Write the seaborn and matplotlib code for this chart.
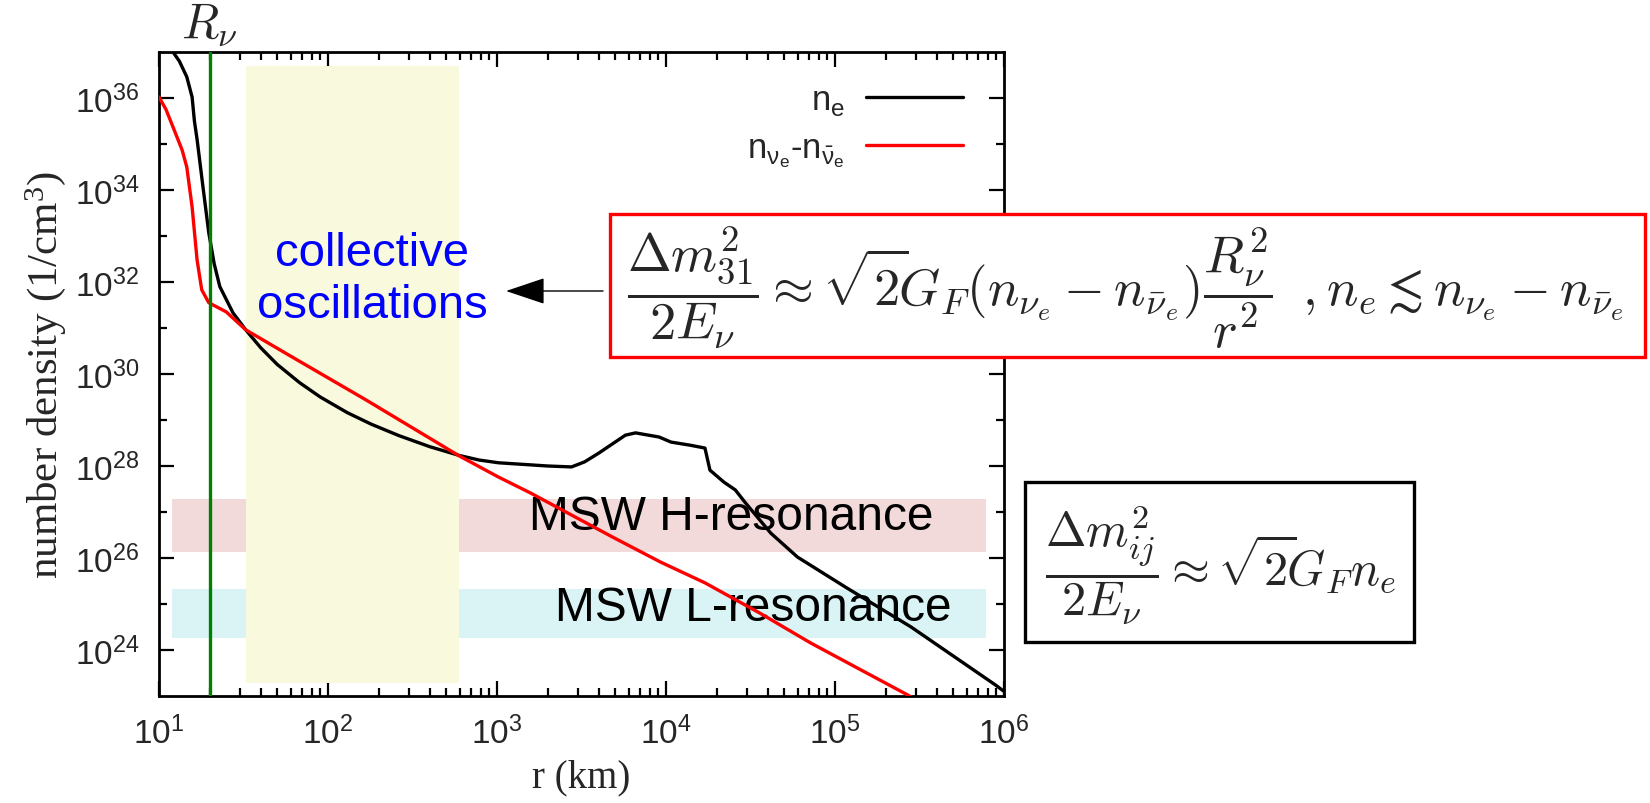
import numpy as np
import pandas as pd
import matplotlib
matplotlib.use("Agg")
import matplotlib.pyplot as plt
import seaborn as sns
from matplotlib.patches import Rectangle, FancyArrowPatch
from matplotlib.ticker import FixedLocator, FuncFormatter, NullFormatter
import matplotlib.transforms as mtransforms

# ---------------- data ----------------
r_ne = [11.5, 12.1, 13.2, 14.6, 15.7, 16.2, 16.8, 18.2, 19.7, 21.2, 22.9, 27.4, 32.6,
        40, 50, 68, 90, 130, 180, 263, 400, 597, 783, 1020, 1500, 2000, 2760, 3300,
        4000, 5750, 6600, 9100, 10700, 14000, 17000, 18200, 22000, 25700, 29500,
        41700, 60000, 115000, 282000, 890000, 1e6]
exp_ne = [37.3, 37.0, 36.8, 36.46, 36.02, 35.5, 35.1, 34.07, 33.07, 32.4, 31.9, 31.33, 30.96,
          30.57, 30.21, 29.81, 29.50, 29.16, 28.91, 28.66, 28.42, 28.23, 28.13, 28.07, 28.03,
          28.0, 27.98, 28.09, 28.28, 28.67, 28.72, 28.63, 28.52, 28.45, 28.39, 27.91, 27.65,
          27.48, 27.2, 26.54, 26.02, 25.37, 24.5, 23.24, 23.1]

r_nu = [10, 11, 12.1, 13.7, 14.6, 15.7, 16.8, 17.9, 19.7, 25, 32.6, 60, 169, 597, 1020,
        1585, 4800, 9300, 17000, 36000, 72000, 270000, 320000]
exp_nu = [36.02, 35.75, 35.37, 34.87, 34.5, 33.63, 32.48, 31.83, 31.55, 31.35, 30.96, 30.39,
          29.43, 28.22, 27.76, 27.41, 26.46, 25.91, 25.46, 24.8, 24.15, 23.02, 22.85]

R_nu = 20.0                      # neutrinosphere radius (km)
collective_range = (32.6, 597)   # collective oscillation region (km)
H_band = (1.35e26, 1.9e27)       # MSW H-resonance densities
L_band = (1.8e24, 2.1e25)        # MSW L-resonance densities
band_r = (12, 7.8e5)

x_ticks = [1e1, 1e2, 1e3, 1e4, 1e5, 1e6]
y_major = [1e24, 1e26, 1e28, 1e30, 1e32, 1e34, 1e36]
y_minor = [1e25, 1e27, 1e29, 1e31, 1e33, 1e35]

label_ne = r"n$_\mathregular{e}$"
label_nu = r"n$_{\mathregular{\nu_e}}$-n$_{\mathregular{\bar{\nu}_e}}$"

df_ne = pd.DataFrame({"r": r_ne, "n": 10.0 ** np.array(exp_ne)})
df_nu = pd.DataFrame({"r": r_nu, "n": 10.0 ** np.array(exp_nu)})

# ---------------- style ----------------
sns.set_theme(style="ticks")
plt.rcParams["font.family"] = ["Liberation Sans", "DejaVu Sans"]
plt.rcParams["axes.linewidth"] = 2.0

W, H = 1650, 804
fig = plt.figure(figsize=(W / 100, H / 100), dpi=100)
fig.patch.set_facecolor("white")


def fx(px):
    return px / W


def fy(py):
    return 1 - py / H


ax = fig.add_axes([fx(159), fy(697), fx(1004) - fx(159), (697 - 53) / H])
ax.set_facecolor("white")
ax.set_xscale("log")
ax.set_yscale("log")
ax.set_xlim(1e1, 1e6)
ax.set_ylim(1e23, 1e37)

# background regions
xr0 = (np.log10(band_r[0]) - 1) / 5
xr1 = (np.log10(band_r[1]) - 1) / 5
ax.axhspan(*H_band, xmin=xr0, xmax=xr1, color="#f2dadb", lw=0, zorder=1)
ax.axhspan(*L_band, xmin=xr0, xmax=xr1, color="#daf4f5", lw=0, zorder=1)
ax.axvspan(*collective_range, ymin=0.02, ymax=0.978, color="#f9f9de", lw=0, zorder=2)

ax.text(0.677, 0.278, "MSW H-resonance", transform=ax.transAxes, ha="center",
        va="center", fontsize=34.5, color="black", zorder=3)
ax.text(0.703, 0.138, "MSW L-resonance", transform=ax.transAxes, ha="center",
        va="center", fontsize=34.5, color="black", zorder=3)

sns.lineplot(data=df_ne, x="r", y="n", ax=ax, color="black", lw=2.4, sort=False,
             estimator=None, label=label_ne, zorder=4)
sns.lineplot(data=df_nu, x="r", y="n", ax=ax, color="#ff0000", lw=2.4, sort=False,
             estimator=None, label=label_nu, zorder=4)

ax.axvline(R_nu, color="#008000", lw=2.4, zorder=5)
blend = mtransforms.blended_transform_factory(ax.transData, ax.transAxes)
ax.text(R_nu, 1.022, r"$R_\nu$", transform=blend, ha="center", va="baseline",
        fontsize=35, math_fontfamily="cm")

fig.text(fx(372), fy(280), "collective\noscillations", ha="center", va="center",
         fontsize=34, color="#0000ff", linespacing=1.22, zorder=6)

# ticks
ax.xaxis.set_major_locator(FixedLocator(x_ticks))
ax.yaxis.set_major_locator(FixedLocator(y_major))
ax.yaxis.set_minor_locator(FixedLocator(y_minor))
ax.yaxis.set_minor_formatter(NullFormatter())
fmt = FuncFormatter(lambda v, p: r"$\mathregular{10^{%d}}$" % int(round(np.log10(v))))
ax.xaxis.set_major_formatter(fmt)
ax.yaxis.set_major_formatter(fmt)
ax.tick_params(which="both", direction="in", top=True, right=True, labelsize=24,
               width=1.6, color="black")
ax.tick_params(which="major", length=11)
ax.tick_params(which="minor", length=6)
ax.tick_params(axis="x", which="major", pad=14)
ax.tick_params(axis="y", which="major", pad=14)
for s in ax.spines.values():
    s.set_color("black")
    s.set_linewidth(2.0)

ax.set_xlabel("r (km)", family=["Liberation Serif"], fontsize=28, labelpad=6)
ax.set_ylabel(r"number density (1/cm$\mathregular{^3}$)", family=["Liberation Serif"],
              fontsize=31, labelpad=5)

leg = ax.legend(loc="upper right", bbox_to_anchor=(fx(963), fy(84)),
                bbox_transform=fig.transFigure, frameon=False, markerfirst=False,
                fontsize=25, handlelength=2.8, handletextpad=0.6, labelspacing=0.4,
                borderpad=0, borderaxespad=0)

# formula boxes
red_box = Rectangle((fx(610), fy(358)), fx(1645) - fx(610), (358 - 215) / H,
                    transform=fig.transFigure, facecolor="white", edgecolor="#ff0000",
                    lw=2.4, zorder=8)
fig.patches.append(red_box)
blk_box = Rectangle((fx(1025), fy(643)), fx(1414) - fx(1025), (643 - 483) / H,
                    transform=fig.transFigure, facecolor="white", edgecolor="black",
                    lw=2.4, zorder=8)
fig.patches.append(blk_box)

fig.text(fx(627), fy(288),
         r"$\dfrac{\Delta m^2_{31}}{2E_\nu}\approx\sqrt{2}\!G_F(n_{\nu_e}-n_{\bar{\nu}_e})"
         r"\dfrac{R_\nu^2}{r^2}\;\;, n_e\lesssim n_{\nu_e}-n_{\bar{\nu}_e}$",
         ha="left", va="center", fontsize=37.8, math_fontfamily="cm", zorder=9)
fig.text(fx(1045), fy(565),
         r"$\dfrac{\Delta m^2_{ij}}{2E_\nu}\approx\sqrt{2}\!G_F n_e$",
         ha="left", va="center", fontsize=35, math_fontfamily="cm", zorder=9)

arrow = FancyArrowPatch((fx(603), fy(292)), (fx(506), fy(292)),
                        transform=fig.transFigure,
                        arrowstyle="-|>,head_length=1.25,head_width=0.42",
                        mutation_scale=20, color="black", lw=1.0, zorder=9,
                        shrinkA=0, shrinkB=0)
fig.patches.append(arrow)

fig.savefig("out.png", dpi=100, facecolor="white")
